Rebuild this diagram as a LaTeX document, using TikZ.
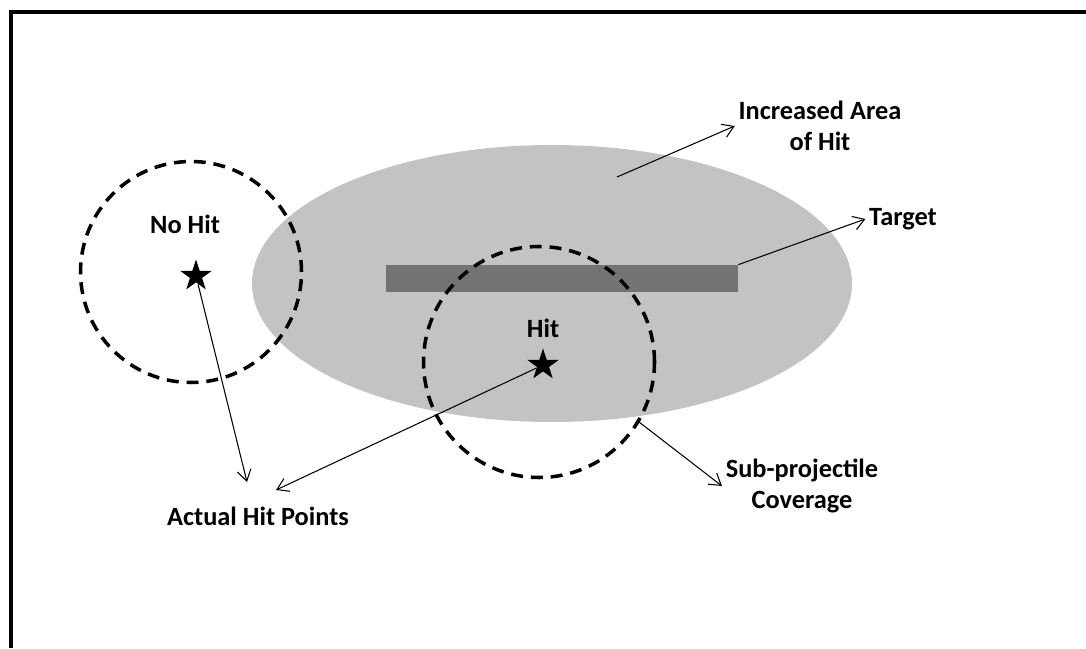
\documentclass[tikz,border=0pt]{standalone}
\usepackage{fontspec}
\setmainfont{Carlito}
\usetikzlibrary{positioning,shapes.geometric,arrows.meta}
\definecolor{areagray}{HTML}{C3C3C3}
\definecolor{bargray}{HTML}{737373}
\tikzset{
  lbl/.style={font=\fontsize{15}{18}\selectfont\bfseries, inner sep=2pt, align=center},
  pointer/.style={-{Straight Barb[length=2.2mm,width=2.8mm]}, line width=0.6pt},
  spread/.style={circle, draw, line width=2pt, dash pattern=on 6.8pt off 4.5pt, inner sep=0pt},
  pointstar/.style={star, star points=5, star point ratio=2.6, fill=black, inner sep=0pt, minimum size=0.66cm}
}

\begin{document}
\begin{tikzpicture}
              \useasboundingbox (0,0) rectangle (21.72,12.96);
              %frame
              \draw[line width=1.8pt] (0.22,0) -- (0.22,12.72) -- (21.72,12.72);

              \node[ellipse, fill=areagray, minimum width=12cm, minimum height=5.54cm] (zone) at (11.04,7.29) {};
              \node[fill=bargray, minimum width=7.04cm, minimum height=0.54cm, inner sep=0pt] (bar) at (11.24,7.39) {};
              \node[spread, minimum size=4.42cm] (nohitzone) at (3.82,7.52) {};
              \node[spread, minimum size=4.62cm] (hitzone) at (10.78,5.72) {};
              \node[pointstar] (nohitpt) at (3.92,7.44) {};
              \node[pointstar] (hitpt) at (10.86,5.66) {};

              \node[lbl] (nohit) at (3.70,8.48) {No Hit};
              \node[lbl] (hit) at (10.86,6.40) {Hit};
              \node[lbl] (area) at (16.40,10.44) {Increased Area\\of Hit};
              \node[lbl] (target) at (18.06,8.58) {Target};
              \node[lbl] (cover) at (16.04,3.24) {Sub-projectile\\Coverage};
              \node[lbl] (actual) at (5.16,2.64) {Actual Hit Points};

              \coordinate (inarea) at (12.34,9.42);
              \coordinate (tipa) at (4.94,3.32);
              \coordinate (tipb) at (5.52,3.16);

              %labels
              \draw[pointer] (inarea) -- (area.west);
              \draw[pointer] (bar.north east) -- (target.west);
              \draw[pointer] (hitzone.-31) -- (cover.west);
              %hit points
              \draw[pointer] (nohitpt) -- (tipa);
              \draw[pointer] (hitpt) -- (tipb);
            \end{tikzpicture}
\end{document}
